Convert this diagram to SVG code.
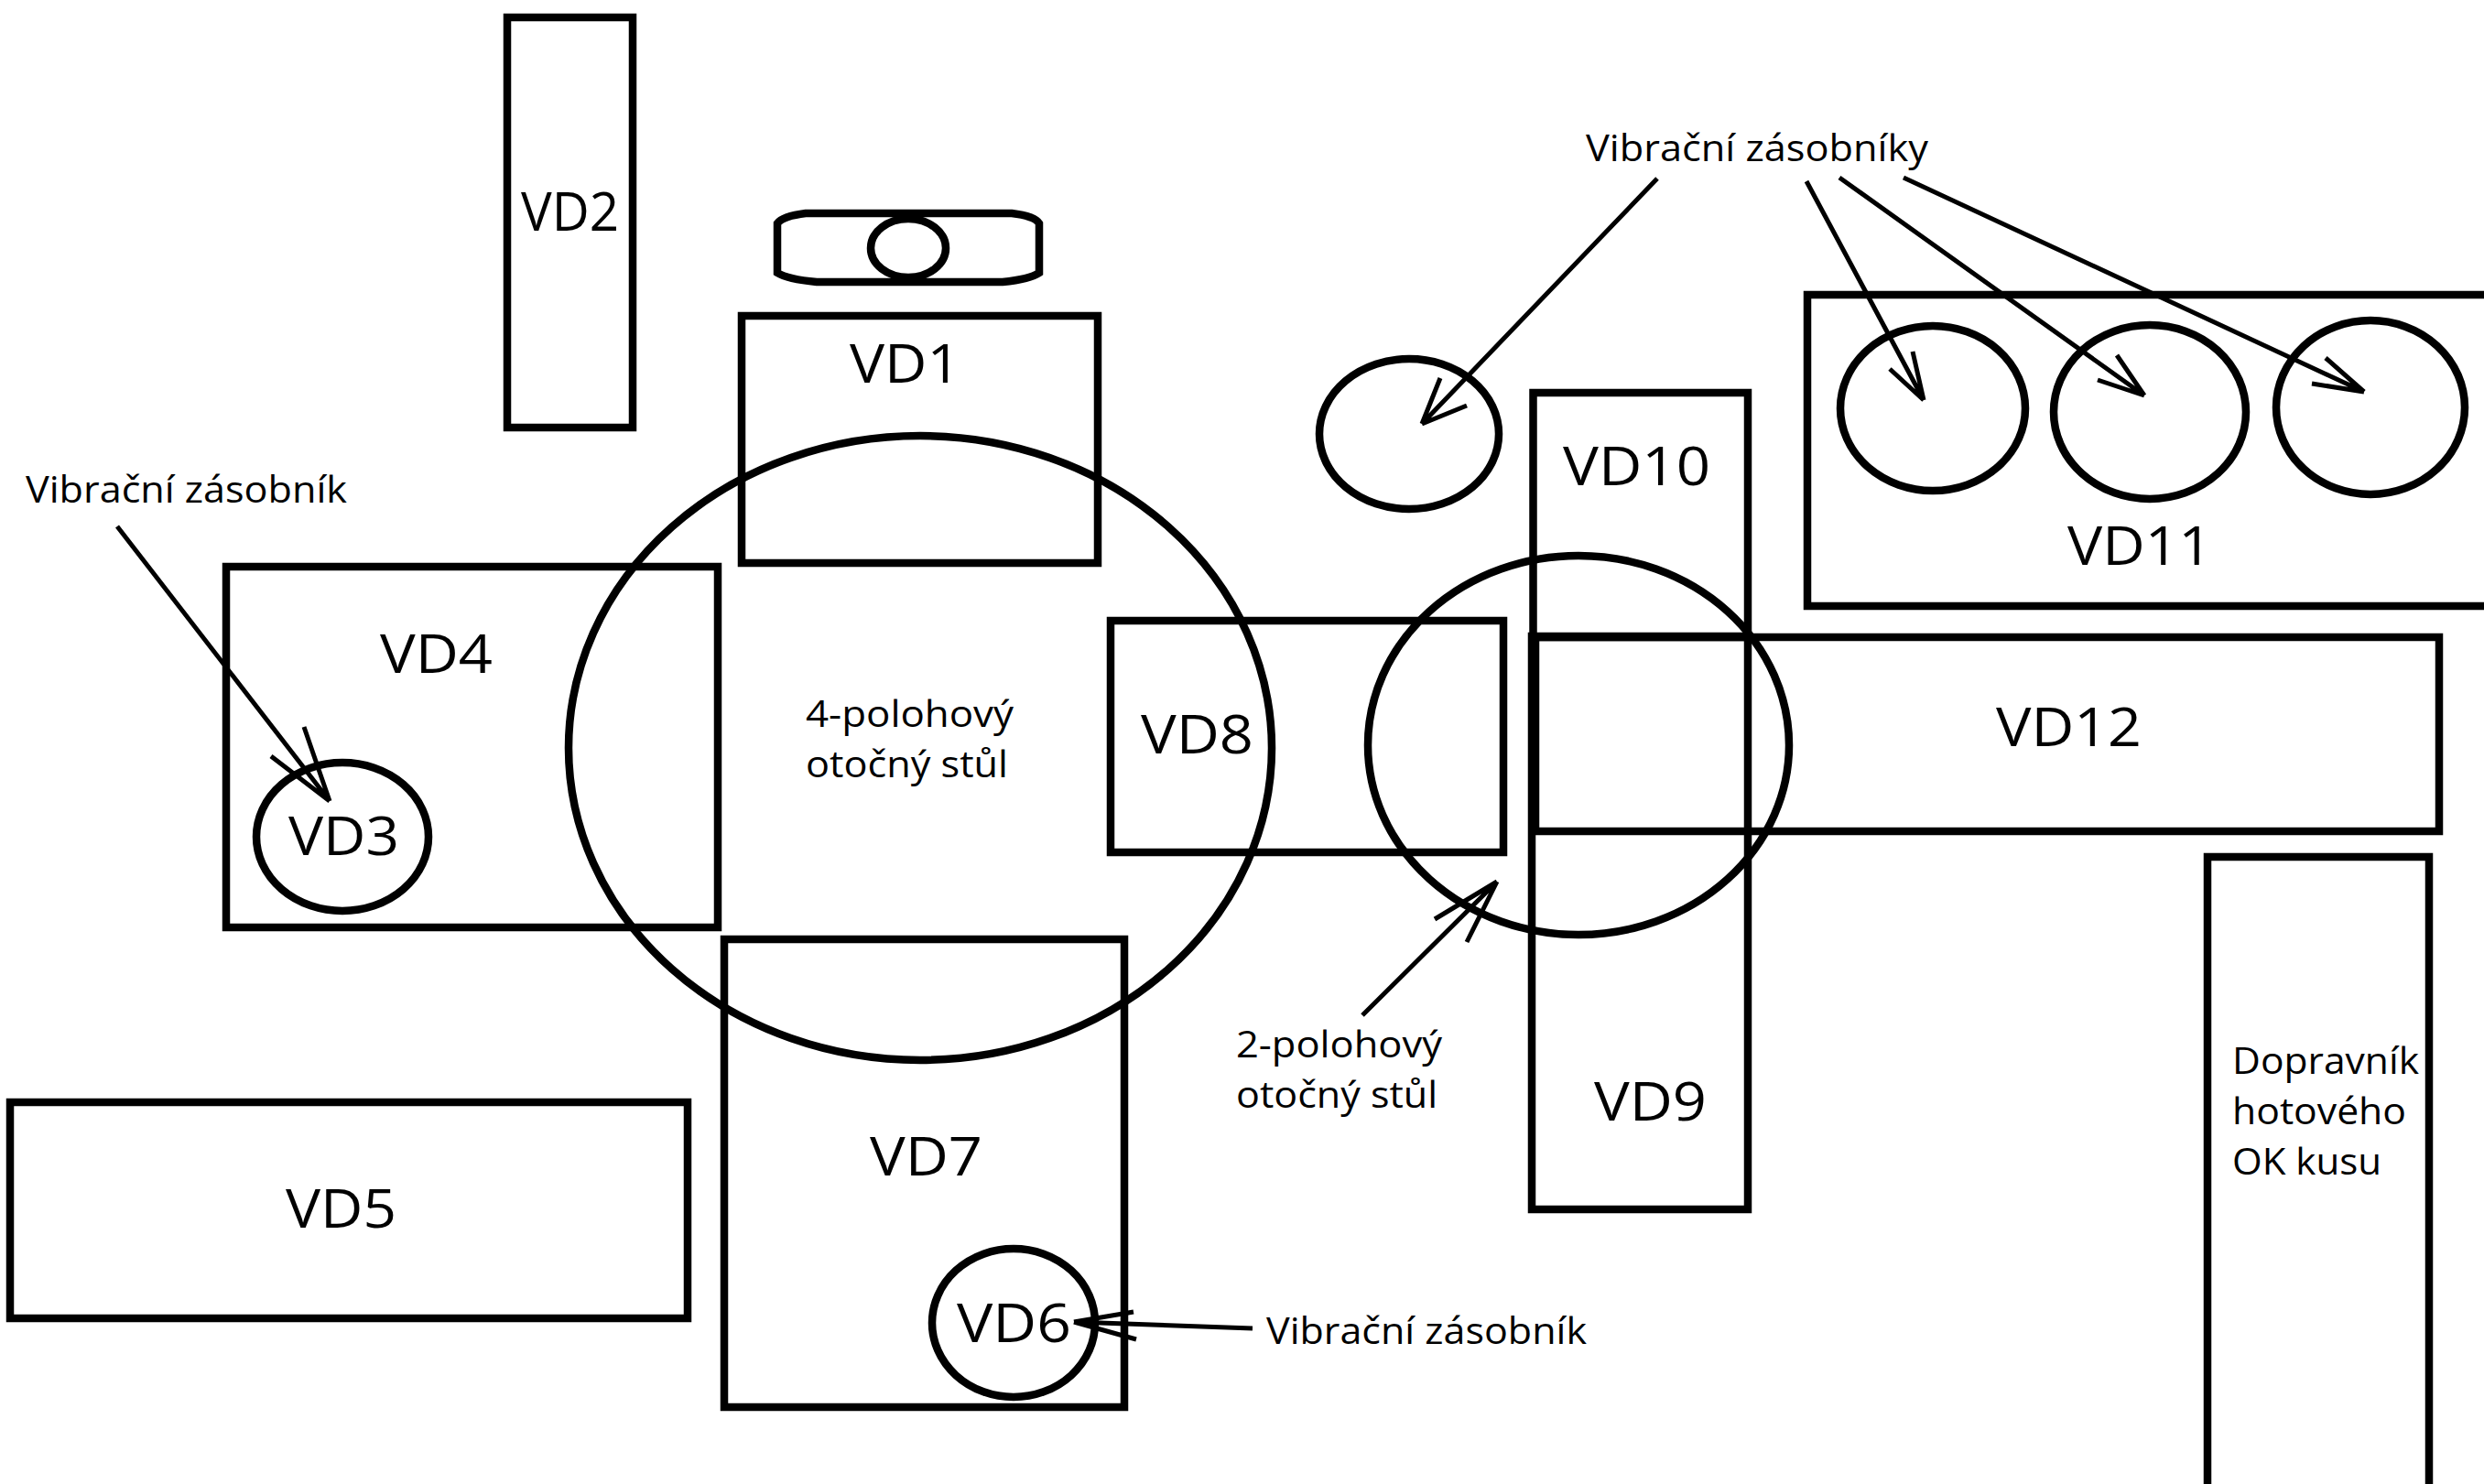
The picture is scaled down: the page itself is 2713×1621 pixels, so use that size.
<svg xmlns="http://www.w3.org/2000/svg" width="2713" height="1621" viewBox="0 0 2713 1621">
<style>
.s{fill:none;stroke:#000;stroke-width:8.5}
.a{fill:none;stroke:#000;stroke-width:5}
text{font-family:"Open Sans","Noto Sans",sans-serif;fill:#000}
.l{font-size:58px}
.m{font-size:40px}
</style>
<rect width="2713" height="1621" fill="#fff"/>
<g id="VD2"><rect class="s" x="554" y="19" width="137" height="448"/><text class="l" x="569" y="252" textLength="107" lengthAdjust="spacingAndGlyphs">VD2</text></g>
<g id="holder"><path class="s" d="M849,244Q855,236 880,233H1105Q1130,236 1135,244V298Q1125,305 1095,308H892Q860,305 849,298Z"/><ellipse class="s" cx="992" cy="271" rx="41" ry="32"/></g>
<g id="VD1"><rect class="s" x="810" y="345" width="389" height="270"/><text class="l" x="928" y="418" textLength="121" lengthAdjust="spacingAndGlyphs">VD1</text></g>
<g id="VD4"><rect class="s" x="247" y="619" width="537" height="394"/><text class="l" x="415" y="735" textLength="123" lengthAdjust="spacingAndGlyphs">VD4</text></g>
<g id="VD3"><ellipse class="s" cx="374" cy="914" rx="94" ry="81"/><text class="l" x="315" y="934" textLength="121" lengthAdjust="spacingAndGlyphs">VD3</text></g>
<g id="table4"><ellipse class="s" cx="1005" cy="817" rx="384" ry="341"/><text class="m" x="880" y="794" textLength="227" lengthAdjust="spacingAndGlyphs">4-polohový</text><text class="m" x="880" y="849" textLength="221" lengthAdjust="spacingAndGlyphs">otočný stůl</text></g>
<g id="VD5"><rect class="s" x="11" y="1204" width="740" height="236"/><text class="l" x="312" y="1341" textLength="121" lengthAdjust="spacingAndGlyphs">VD5</text></g>
<g id="VD7"><rect class="s" x="791" y="1026" width="437" height="511"/><text class="l" x="950" y="1284" textLength="123" lengthAdjust="spacingAndGlyphs">VD7</text></g>
<g id="VD6"><ellipse class="s" cx="1107" cy="1445" rx="89" ry="81"/><text class="l" x="1045" y="1466" textLength="125" lengthAdjust="spacingAndGlyphs">VD6</text></g>
<g id="VD8"><rect class="s" x="1213" y="678" width="429" height="253"/><text class="l" x="1246" y="823" textLength="123" lengthAdjust="spacingAndGlyphs">VD8</text></g>
<g id="VD10"><rect class="s" x="1674.5" y="429" width="234.5" height="267"/><text class="l" x="1707" y="530" textLength="161" lengthAdjust="spacingAndGlyphs">VD10</text></g>
<g id="VD9"><rect class="s" x="1673" y="695" width="236" height="626"/><text class="l" x="1741" y="1224" textLength="123" lengthAdjust="spacingAndGlyphs">VD9</text></g>
<g id="VD12"><rect class="s" x="1677" y="696" width="987" height="212"/><text class="l" x="2180" y="815" textLength="159" lengthAdjust="spacingAndGlyphs">VD12</text></g>
<g id="table2"><ellipse class="s" cx="1724" cy="814" rx="230" ry="207"/><text class="m" x="1350" y="1155" textLength="225" lengthAdjust="spacingAndGlyphs">2-polohový</text><text class="m" x="1350" y="1210" textLength="220" lengthAdjust="spacingAndGlyphs">otočný stůl</text></g>
<g id="VD11"><path class="s" d="M2720,322H1974V662H2720"/><ellipse class="s" cx="2111" cy="446" rx="101" ry="90"/><ellipse class="s" cx="2348" cy="450" rx="105" ry="95"/><ellipse class="s" cx="2589" cy="445" rx="103" ry="95"/><text class="l" x="2258" y="617" textLength="158" lengthAdjust="spacingAndGlyphs">VD11</text></g>
<g id="bowl"><ellipse class="s" cx="1539" cy="474" rx="98" ry="82"/></g>
<g id="conveyor"><path class="s" d="M2411,1630V936H2653V1630"/><text class="m" x="2438" y="1173" textLength="204" lengthAdjust="spacingAndGlyphs">Dopravník</text><text class="m" x="2438" y="1228" textLength="190" lengthAdjust="spacingAndGlyphs">hotového</text><text class="m" x="2438" y="1283" textLength="163" lengthAdjust="spacingAndGlyphs">OK kusu</text></g>
<g id="labels"><text class="m" x="28" y="549" textLength="351" lengthAdjust="spacingAndGlyphs">Vibrační zásobník</text><text class="m" x="1732" y="176" textLength="374" lengthAdjust="spacingAndGlyphs">Vibrační zásobníky</text><text class="m" x="1383" y="1468" textLength="350" lengthAdjust="spacingAndGlyphs">Vibrační zásobník</text></g>
<g id="connectors">
<path class="a" d="M128,575L360,875M332,794L360,875M296,826L360,875"/>
<path class="a" d="M1810,195L1553,463M1573,413L1553,463M1602,443L1553,463"/>
<path class="a" d="M1973,198L2101,437M2089,384L2101,437M2064,403L2101,437"/>
<path class="a" d="M2009,194L2342,432M2312,388L2342,432M2291,415L2342,432"/>
<path class="a" d="M2079,194L2582,428M2540,391L2582,428M2525,419L2582,428"/>
<path class="a" d="M1488,1109L1635,963M1567,1004L1635,963M1602,1029L1635,963"/>
<path class="a" d="M1368,1451L1173,1444M1238,1433L1173,1444M1241,1463L1173,1444"/>
</g>
</svg>
